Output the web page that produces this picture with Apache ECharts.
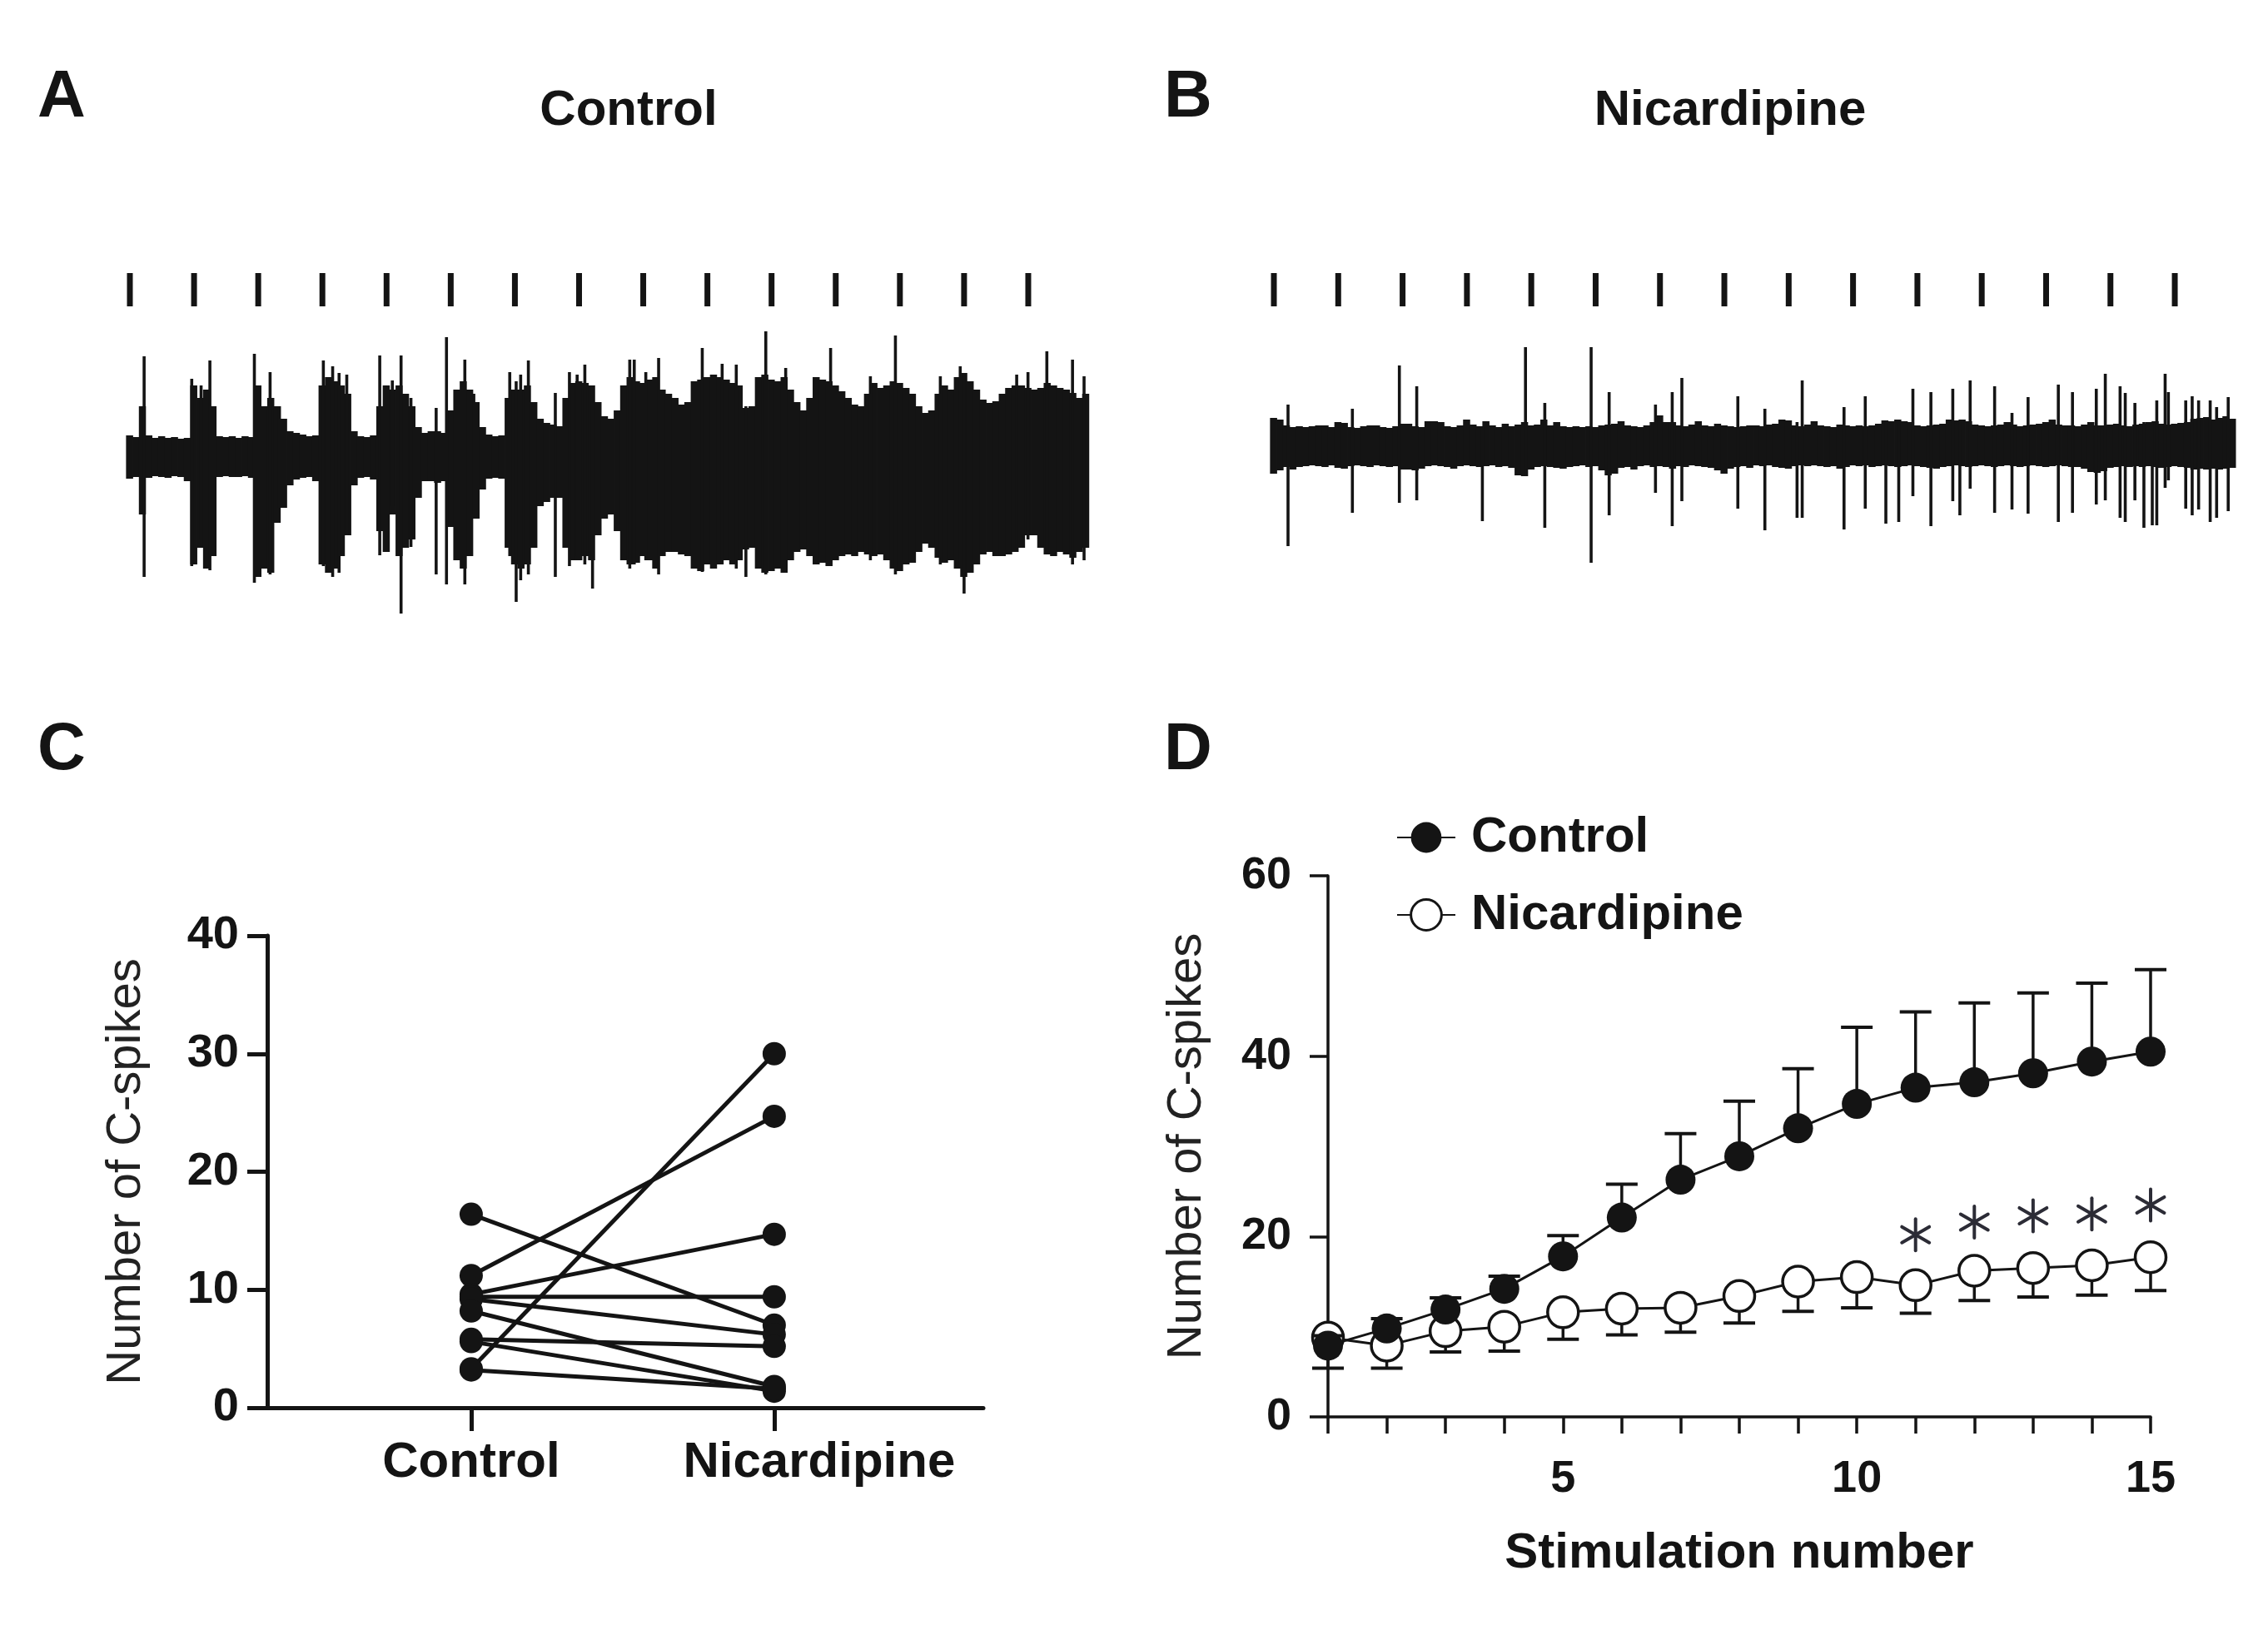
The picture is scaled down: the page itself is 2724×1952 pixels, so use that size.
<!DOCTYPE html>
<html>
<head>
<meta charset="utf-8">
<script src="https://cdn.jsdelivr.net/npm/echarts@6/dist/echarts.min.js"></script>
<style>
html,body{margin:0;padding:0;background:#fff;}
#chart{width:2724px;height:1952px;}
</style>
</head>
<body>
<div id="chart"></div>
<script>
// ===================== DATA =====================
// Panels A/B: stimulation marks (stimulus number) and the recorded traces.
const stimNumbers = [1,2,3,4,5,6,7,8,9,10,11,12,13,14,15];
// Traces are summarised as envelope bins (time in stimulus units, bin start = TRACE_T0 + i*TRACE_DT)
const TRACE_T0 = 0.94, TRACE_DT = 0.1;
const traceA_hi = [
25,23,60,25,22,24,22,23,21,22,
85,70,80,60,24,23,24,22,24,23,
85,60,70,60,45,30,28,26,24,25,
85,95,90,85,75,30,24,23,25,60,
85,80,85,75,60,35,28,30,30,28,
55,80,90,80,65,35,26,24,25,70,
80,80,85,65,45,40,38,36,70,88,
90,88,85,65,48,45,55,85,95,90,
88,92,95,80,75,70,62,65,90,92,
95,98,95,92,88,85,58,60,95,98,
92,90,95,80,65,55,70,95,92,90,
85,78,70,62,60,75,88,82,85,90,
88,82,75,60,52,55,75,85,80,95,
100,90,80,68,64,66,75,82,85,85,
82,80,82,88,85,82,80,76,70,75];
const traceA_lo = [
-27,-25,-70,-26,-24,-25,-26,-24,-25,-30,
-130,-110,-135,-120,-25,-24,-25,-25,-24,-26,
-145,-135,-140,-80,-62,-35,-28,-26,-25,-30,
-130,-140,-135,-120,-95,-35,-26,-25,-28,-90,
-115,-70,-120,-110,-100,-50,-30,-30,-32,-30,
-85,-125,-135,-120,-75,-40,-27,-26,-27,-110,
-130,-135,-130,-110,-60,-55,-50,-50,-110,-125,
-125,-120,-125,-95,-75,-70,-90,-125,-130,-128,
-120,-125,-135,-120,-115,-115,-118,-120,-135,-138,
-130,-135,-130,-125,-130,-125,-112,-110,-135,-140,
-138,-135,-140,-125,-115,-112,-120,-130,-128,-132,
-125,-120,-118,-120,-115,-118,-120,-118,-125,-135,
-138,-130,-128,-115,-105,-110,-122,-128,-125,-135,
-145,-140,-130,-118,-115,-120,-120,-118,-115,-110,
-95,-95,-110,-118,-120,-115,-118,-122,-115,-110];
// individual spikes: [time, top, bottom]
const traceA_spikes = [
[1.222,120,-145],[1.964,93,-132],[2.11,85,-100],[2.247,115,-137],[2.94,123,-152],[3.185,101,-142],
[3.33,60,-62],[4.015,115,-132],[4.16,108,-145],[4.26,100,-140],[4.38,98,-95],[4.894,121,-119],
[5.09,91,-60],[5.226,121,-189],[5.38,70,-109],[5.773,58,-142],[5.934,143,-154],[6.22,116,-154],
[6.36,75,-70],[6.92,101,-120],[7.02,90,-175],[7.09,98,-149],[7.21,115,-142],[7.63,76,-145],
[7.85,101,-132],[7.97,98,-120],[8.09,110,-130],[8.21,85,-159],[8.79,116,-135],[8.86,116,-130],
[9.04,101,-125],[9.24,118,-142],[9.92,130,-139],[10.23,111,-130],[10.45,110,-135],[10.60,60,-145],
[10.91,150,-142],[11.22,106,-140],[11.92,130,-132],[12.54,96,-125],[12.93,145,-142],[13.63,96,-130],
[13.94,108,-135],[14.0,90,-165],[14.82,98,-110],[14.996,101,-100],[15.29,126,-115],[15.69,116,-130],
[15.87,96,-125]];
const traceB_hi = [
35,33,26,24,25,24,25,26,26,24,
30,29,24,23,25,26,26,24,23,25,
28,28,25,24,31,31,30,25,24,26,
33,27,25,31,26,24,28,25,27,30,
26,27,33,26,30,25,24,25,24,25,
24,26,27,28,31,26,25,24,26,30,
38,30,30,26,25,27,31,26,25,28,
26,25,24,25,26,26,25,27,28,33,
32,26,25,27,31,26,25,24,27,26,
25,26,25,26,28,32,31,33,31,30,
26,25,26,27,28,33,32,33,31,27,
26,25,26,27,30,27,25,26,27,28,
30,33,27,26,26,25,27,30,26,26,
27,28,26,25,27,28,30,31,28,27,
28,29,30,34,35,36,33,35,37,34];
const traceB_lo = [
-32,-28,-24,-27,-24,-23,-22,-23,-24,-22,
-25,-26,-23,-22,-23,-24,-22,-23,-24,-23,
-27,-27,-28,-26,-23,-22,-23,-24,-26,-23,
-22,-23,-24,-23,-22,-24,-23,-25,-34,-35,
-27,-24,-23,-24,-25,-26,-24,-23,-22,-24,
-23,-28,-34,-32,-25,-24,-27,-23,-22,-24,
-23,-24,-26,-23,-24,-22,-23,-24,-25,-28,
-32,-26,-24,-23,-25,-22,-23,-22,-24,-25,
-26,-23,-22,-23,-22,-23,-24,-23,-26,-24,
-22,-23,-22,-24,-23,-22,-23,-24,-23,-22,
-23,-24,-25,-26,-24,-23,-22,-23,-24,-23,
-22,-23,-24,-23,-22,-23,-24,-23,-22,-23,
-24,-23,-22,-23,-24,-24,-26,-30,-31,-29,
-25,-24,-23,-24,-23,-24,-23,-24,-25,-24,
-23,-24,-25,-27,-26,-27,-26,-27,-26,-25];
const traceB_spikes = [
[1.22,51,-119],[2.22,46,-79],[2.95,98,-67],[3.22,73,-64],[4.24,24,-89],[4.91,120,-35],
[5.21,53,-97],[5.93,120,-139],[6.21,66,-82],[6.93,51,-55],[7.19,66,-95],[7.34,83,-65],
[8.21,61,-74],[8.63,46,-100],[9.13,30,-85],[9.21,80,-85],[9.86,48,-99],[10.19,61,-74],
[10.51,30,-92],[10.71,28,-90],[10.93,70,-59],[11.21,66,-95],[11.55,70,-65],[11.66,30,-82],
[11.82,80,-50],[12.2,73,-79],[12.47,41,-75],[12.72,60,-80],[13.19,75,-90],[13.41,66,-79],
[13.78,70,-69],[13.92,88,-64],[14.15,73,-85],[14.23,65,-90],[14.38,53,-64],[14.52,30,-97],
[14.65,30,-94],[14.72,56,-94],[14.85,88,-49],[14.9,66,-40],[15.17,56,-74],[15.27,61,-82],
[15.37,56,-75],[15.55,56,-90],[15.65,48,-85],[15.83,60,-77]];

// Panel C: paired values (one line per preparation)
const pairCategories = ['Control', 'Nicardipine'];
const pairedControl     = [16.4, 11.2, 3.3, 9.6, 9.4, 9.2, 8.2, 5.8, 5.6, 3.2];
const pairedNicardipine = [7.0, 24.7, 30.0, 14.7, 9.4, 6.2, 1.8, 5.2, 1.4, 1.6];
const cYTicks = [0, 10, 20, 30, 40];

// Panel D: mean and error bars per stimulation number
const stimulationNumber = [1,2,3,4,5,6,7,8,9,10,11,12,13,14,15];
const controlMean   = [7.9, 9.8, 11.9, 14.2, 17.8, 22.1, 26.3, 28.9, 32.0, 34.7, 36.5, 37.1, 38.1, 39.4, 40.5];
const controlErrTop = [9.0, 10.9, 13.2, 15.6, 20.1, 25.8, 31.4, 35.0, 38.6, 43.2, 44.9, 45.9, 47.0, 48.1, 49.6];
const nicMean       = [8.8, 7.9, 9.5, 10.0, 11.6, 12.0, 12.1, 13.4, 15.0, 15.5, 14.6, 16.2, 16.5, 16.8, 17.7];
const nicErrBottom  = [5.4, 5.4, 7.2, 7.3, 8.6, 9.1, 9.4, 10.4, 11.7, 12.1, 11.5, 12.9, 13.3, 13.5, 14.0];
const asteriskStim  = [11, 12, 13, 14, 15];
const asteriskLevel = [20.2, 21.6, 22.3, 22.5, 23.5];
const dXLabels = [5, 10, 15];
const dYTicks = [0, 20, 40, 60];

// ===================== STYLE / LAYOUT =====================
const FONT = '"Liberation Sans", Arial, Helvetica, sans-serif';
const INK = '#141414';
const STIM_A = [180, 220];   // stimulus mark extent in trace-A units
const STIM_B = [169, 209];   // stimulus mark extent in trace-B units

const chart = echarts.init(document.getElementById('chart'), null, {renderer: 'canvas'});

function binData(hi, lo) {
  return hi.map((h, i) => [TRACE_T0 + i * TRACE_DT, h, lo[i]]);
}
function renderBins(params, api) {
  const t0 = api.value(0);
  const p1 = api.coord([t0, api.value(1)]);
  const p2 = api.coord([t0 + TRACE_DT, api.value(2)]);
  return {type: 'rect', shape: {x: p1[0], y: p1[1], width: p2[0] - p1[0] + 0.8, height: p2[1] - p1[1]},
          style: {fill: INK}};
}
function renderSpikes(params, api) {
  const p1 = api.coord([api.value(0), api.value(1)]);
  const p2 = api.coord([api.value(0), api.value(2)]);
  return {type: 'rect', shape: {x: p1[0] - 1.8, y: p1[1], width: 3.6, height: p2[1] - p1[1]},
          style: {fill: INK}};
}
function stimRenderer(ext) {
  return function (params, api) {
    const p1 = api.coord([api.value(0), ext[1]]);
    const p2 = api.coord([api.value(0), ext[0]]);
    return {type: 'rect', shape: {x: p1[0] - 3.5, y: p1[1], width: 7, height: p2[1] - p1[1]},
            style: {fill: INK}};
  };
}
function errRenderer(capHalf) {
  return function (params, api) {
    const x = api.value(0);
    const p0 = api.coord([x, api.value(1)]);
    const p1 = api.coord([x, api.value(2)]);
    return {type: 'group', children: [
      {type: 'line', shape: {x1: p0[0], y1: p0[1], x2: p1[0], y2: p1[1]}, style: {stroke: INK, lineWidth: 3.5}},
      {type: 'line', shape: {x1: p1[0] - capHalf, y1: p1[1], x2: p1[0] + capHalf, y2: p1[1]}, style: {stroke: INK, lineWidth: 4}}
    ]};
  };
}
function renderAsterisk(params, api) {
  const c = api.coord([api.value(0), api.value(1)]);
  const L = 19;
  const kids = [90, 30, 150].map(a => {
    const r = a * Math.PI / 180;
    return {type: 'line', shape: {x1: c[0] - L * Math.cos(r), y1: c[1] - L * Math.sin(r),
                                  x2: c[0] + L * Math.cos(r), y2: c[1] + L * Math.sin(r)},
            style: {stroke: '#2c2c36', lineWidth: 4, lineCap: 'round'}};
  });
  return {type: 'group', children: kids};
}

const traceX = {type: 'value', min: 0.9, max: 16, show: false};
const hiddenY = {type: 'value', min: -250, max: 250, show: false};

const series = [];
// Panel A
series.push({type: 'custom', xAxisIndex: 0, yAxisIndex: 0, renderItem: renderBins, data: binData(traceA_hi, traceA_lo), silent: true});
series.push({type: 'custom', xAxisIndex: 0, yAxisIndex: 0, renderItem: renderSpikes, data: traceA_spikes, silent: true});
series.push({type: 'custom', xAxisIndex: 0, yAxisIndex: 0, renderItem: stimRenderer(STIM_A), data: stimNumbers.map(k => [k]), silent: true});
// Panel B
series.push({type: 'custom', xAxisIndex: 1, yAxisIndex: 1, renderItem: renderBins, data: binData(traceB_hi, traceB_lo), silent: true});
series.push({type: 'custom', xAxisIndex: 1, yAxisIndex: 1, renderItem: renderSpikes, data: traceB_spikes, silent: true});
series.push({type: 'custom', xAxisIndex: 1, yAxisIndex: 1, renderItem: stimRenderer(STIM_B), data: stimNumbers.map(k => [k]), silent: true});
// Panel C
pairedControl.forEach((c, i) => {
  series.push({type: 'line', xAxisIndex: 2, yAxisIndex: 2, data: [[1, c], [2, pairedNicardipine[i]]],
    symbol: 'circle', symbolSize: 28, itemStyle: {color: INK}, lineStyle: {color: INK, width: 5}, silent: true, z: 3});
});
// Panel D
series.push({type: 'custom', name: 'nicErr', xAxisIndex: 3, yAxisIndex: 3, renderItem: errRenderer(19),
  data: stimulationNumber.map((x, i) => [x, nicMean[i], nicErrBottom[i]]), z: 2, silent: true});
series.push({type: 'line', name: 'Nicardipine', xAxisIndex: 3, yAxisIndex: 3,
  data: stimulationNumber.map((x, i) => [x, nicMean[i]]), symbol: 'circle', symbolSize: 37,
  itemStyle: {color: '#ffffff', borderColor: INK, borderWidth: 3.5}, lineStyle: {color: INK, width: 3}, z: 3, silent: true});
series.push({type: 'custom', name: 'ctrlErr', xAxisIndex: 3, yAxisIndex: 3, renderItem: errRenderer(19),
  data: stimulationNumber.map((x, i) => [x, controlMean[i], controlErrTop[i]]), z: 4, silent: true});
series.push({type: 'line', name: 'Control', xAxisIndex: 3, yAxisIndex: 3,
  data: stimulationNumber.map((x, i) => [x, controlMean[i]]), symbol: 'circle', symbolSize: 36,
  itemStyle: {color: INK}, lineStyle: {color: INK, width: 3}, z: 5, silent: true});
series.push({type: 'custom', xAxisIndex: 3, yAxisIndex: 3, renderItem: renderAsterisk,
  data: asteriskStim.map((x, i) => [x, asteriskLevel[i]]), z: 6, silent: true});

const labelBold = {fontFamily: FONT, fontWeight: 'bold', color: INK};
const catRich = {
  c: {fontFamily: FONT, fontWeight: 'bold', fontSize: 60, color: INK},
  n: {fontFamily: FONT, fontWeight: 'bold', fontSize: 60, color: INK, padding: [0, 0, 0, 108]}
};

function letter(txt, x, y, size) {
  return {type: 'text', x: x, y: y, style: {text: txt, fontFamily: FONT, fontWeight: 'bold', fontSize: size, fill: INK,
    align: 'center', verticalAlign: 'middle', textAlign: 'center', textVerticalAlign: 'middle'}};
}

const option = {
  backgroundColor: '#ffffff',
  animation: false,
  textStyle: {fontFamily: FONT},
  grid: [
    {left: 148.29, top: 298, width: 1163.76, height: 500},
    {left: 1522.27, top: 287, width: 1167.08, height: 500},
    {left: 321, top: 1124, width: 860, height: 567},
    {left: 1595, top: 1052, width: 988, height: 650}
  ],
  xAxis: [
    Object.assign({gridIndex: 0}, traceX),
    Object.assign({gridIndex: 1}, traceX),
    {gridIndex: 2, type: 'value', min: 0.327, max: 2.69,
     axisLine: {show: true, onZero: false, lineStyle: {color: INK, width: 5}},
     axisTick: {show: true, customValues: [1, 2], length: 28, lineStyle: {color: INK, width: 5}},
     axisLabel: Object.assign({show: true, customValues: [1, 2], fontSize: 60, margin: 36, rich: catRich,
       formatter: v => Math.round(v) === 1 ? '{c|' + pairCategories[0] + '}' : '{n|' + pairCategories[1] + '}'}, labelBold),
     splitLine: {show: false}},
    {gridIndex: 3, type: 'value', min: 1, max: 15, interval: 1,
     axisLine: {show: true, onZero: false, lineStyle: {color: INK, width: 3.5}},
     axisTick: {show: true, length: 20, lineStyle: {color: INK, width: 3.5}},
     axisLabel: Object.assign({show: true, fontSize: 54, margin: 48,
       formatter: v => dXLabels.indexOf(v) >= 0 ? String(v) : ''}, labelBold),
     splitLine: {show: false},
     name: 'Stimulation number', nameLocation: 'middle', nameGap: 134,
     nameTextStyle: {fontFamily: FONT, fontWeight: 'bold', fontSize: 60, color: INK}}
  ],
  yAxis: [
    Object.assign({gridIndex: 0}, hiddenY),
    Object.assign({gridIndex: 1}, hiddenY),
    {gridIndex: 2, type: 'value', min: 0, max: 40, interval: 10,
     axisLine: {show: true, onZero: false, lineStyle: {color: INK, width: 5}},
     axisTick: {show: true, length: 24, lineStyle: {color: INK, width: 5}},
     axisLabel: Object.assign({show: true, fontSize: 56, margin: 34,
       formatter: v => cYTicks.indexOf(v) >= 0 ? String(v) : ''}, labelBold),
     splitLine: {show: false},
     name: 'Number of C-spikes', nameLocation: 'middle', nameGap: 140,
     nameTextStyle: {fontFamily: FONT, fontSize: 58, color: '#222'}},
    {gridIndex: 3, type: 'value', min: 0, max: 60, interval: 20,
     axisLine: {show: true, onZero: false, lineStyle: {color: INK, width: 3.5}},
     axisTick: {show: true, length: 22, lineStyle: {color: INK, width: 3.5}},
     axisLabel: Object.assign({show: true, fontSize: 54, margin: 44,
       formatter: v => dYTicks.indexOf(v) >= 0 ? String(v) : ''}, labelBold),
     splitLine: {show: false},
     name: 'Number of C-spikes', nameLocation: 'middle', nameGap: 140,
     nameTextStyle: {fontFamily: FONT, fontSize: 58, color: '#222'}}
  ],
  legend: {
    show: true, orient: 'vertical', left: 1672, top: 971,
    data: ['Control', 'Nicardipine'], selectedMode: false,
    itemWidth: 70, itemHeight: 46, itemGap: 33,
    itemStyle: {borderWidth: 3},
    textStyle: {fontFamily: FONT, fontWeight: 'bold', fontSize: 60, color: INK, padding: [0, 0, 0, 14]}
  },
  graphic: [
    letter('A', 74, 118, 80),
    letter('B', 1427, 118, 80),
    letter('C', 74, 902, 80),
    letter('D', 1427, 902, 80),
    letter('Control', 755, 133, 60),
    letter('Nicardipine', 2078, 133, 60)
  ],
  series: series
};
chart.setOption(option);
</script>
</body>
</html>
